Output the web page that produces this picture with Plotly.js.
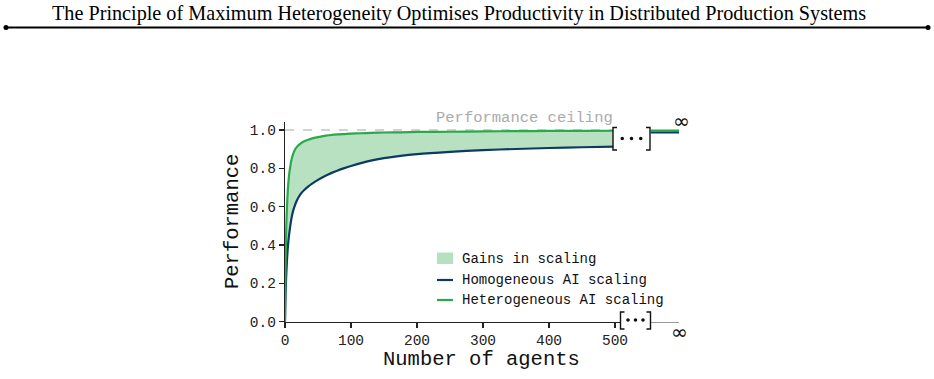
<!DOCTYPE html>
<html>
<head>
<meta charset="utf-8">
<script src="https://cdn.plot.ly/plotly-3.0.1.min.js"></script>
<style>
  html, body { margin: 0; padding: 0; background: #ffffff; }
  #chart { width: 934px; height: 379px; }
</style>
</head>
<body>
<div id="chart"></div>
<script>
// ---- data ----
const agents = [0, 0.5, 1, 1.5, 2, 3, 4, 5, 6, 8, 10, 12, 15, 18, 21, 25, 30, 35, 40, 50, 60, 70, 80, 90, 100, 115, 130, 150, 175, 200, 250, 300, 350, 400, 450, 500];
const homogeneous = [0, 0.09, 0.16, 0.21, 0.25, 0.32, 0.375, 0.415, 0.448, 0.50, 0.543, 0.574, 0.607, 0.632, 0.652, 0.672, 0.690, 0.705, 0.718, 0.740, 0.759, 0.775, 0.789, 0.801, 0.812, 0.827, 0.840, 0.853, 0.865, 0.874, 0.886, 0.895, 0.901, 0.906, 0.910, 0.913];
const heterogeneous = [0, 0.20, 0.34, 0.43, 0.50, 0.60, 0.67, 0.72, 0.76, 0.81, 0.847, 0.872, 0.897, 0.912, 0.922, 0.933, 0.942, 0.949, 0.955, 0.963, 0.969, 0.974, 0.977, 0.979, 0.981, 0.983, 0.985, 0.987, 0.988, 0.990, 0.991, 0.993, 0.994, 0.995, 0.995, 0.996];

// values at the limit (n -> infinity), shown past the axis break
const limitX = [0, 1];
const homogeneousLimit = [0.987, 0.988];
const heterogeneousLimit = [0.997, 0.997];

const ceiling = 1.0;
const ceilingX = [0, 500];
const xTicks = [0, 100, 200, 300, 400, 500];
const yTicks = [0, 0.2, 0.4, 0.6, 0.8, 1.0];

// ---- style ----
const GREEN = '#2ba84a';
const NAVY = '#0c3a63';
const FILL = 'rgba(43,168,74,0.34)';
const MONO = '"Liberation Mono", "DejaVu Sans Mono", monospace';
const SERIF = '"Liberation Serif", "DejaVu Serif", serif';
const W = 934, H = 379;
const px = v => v / W;          // pixel column -> paper fraction
const py = v => 1 - v / H;      // pixel row -> paper fraction

const curveLine = color => ({ color: color, width: 2.2, shape: 'spline', smoothing: 0.8 });

const traces = [
  { x: ceilingX, y: ceilingX.map(() => ceiling), xaxis: 'x', yaxis: 'y', mode: 'lines',
    line: { color: '#c4c4c4', width: 1.6, dash: 'dash' }, hoverinfo: 'skip', showlegend: false },
  { x: agents, y: homogeneous, xaxis: 'x', yaxis: 'y', mode: 'lines', name: 'Homogeneous AI scaling',
    line: curveLine(NAVY), showlegend: false },
  { x: agents, y: heterogeneous, xaxis: 'x', yaxis: 'y', mode: 'lines', name: 'Heterogeneous AI scaling',
    fill: 'tonexty', fillcolor: FILL, line: curveLine(GREEN), showlegend: false },
  { x: limitX, y: homogeneousLimit, xaxis: 'x2', yaxis: 'y', mode: 'lines',
    line: { color: NAVY, width: 2.2 }, showlegend: false, hoverinfo: 'skip' },
  { x: limitX, y: heterogeneousLimit, xaxis: 'x2', yaxis: 'y', mode: 'lines',
    fill: 'tonexty', fillcolor: FILL,
    line: { color: GREEN, width: 2.2 }, showlegend: false, hoverinfo: 'skip' }
];

const tickFont = { family: MONO, size: 14.5, color: '#222' };

// axis break marker: white box, two brackets and three dots
function breakMarker(x0, x1, y0, y1, dotY) {
  const out = [
    { type: 'rect', xref: 'paper', yref: 'paper', x0: px(x0), x1: px(x1), y0: py(y1), y1: py(y0),
      fillcolor: '#ffffff', line: { width: 0 }, layer: 'above' },
    { type: 'path', xref: 'paper', yref: 'paper', layer: 'above',
      path: `M${px(x0 + 4)},${py(y0)} L${px(x0)},${py(y0)} L${px(x0)},${py(y1)} L${px(x0 + 4)},${py(y1)}`,
      line: { color: '#111', width: 1.4 } },
    { type: 'path', xref: 'paper', yref: 'paper', layer: 'above',
      path: `M${px(x1 - 4)},${py(y0)} L${px(x1)},${py(y0)} L${px(x1)},${py(y1)} L${px(x1 - 4)},${py(y1)}`,
      line: { color: '#111', width: 1.4 } }
  ];
  const step = (x1 - x0) / 4;
  for (let i = 1; i <= 3; i++) {
    const cx = x0 + step * i;
    out.push({ type: 'circle', xref: 'paper', yref: 'paper', layer: 'above',
      x0: px(cx - 1.8), x1: px(cx + 1.8), y0: py(dotY + 1.8), y1: py(dotY - 1.8),
      fillcolor: '#111', line: { width: 0 } });
  }
  return out;
}

const shapes = [
  // header rule with end dots
  { type: 'line', xref: 'paper', yref: 'paper', x0: px(6), x1: px(928), y0: py(27.5), y1: py(27.5),
    line: { color: '#000', width: 2 } },
  { type: 'circle', xref: 'paper', yref: 'paper', x0: px(3.5), x1: px(8.5), y0: py(30), y1: py(25),
    fillcolor: '#000', line: { width: 0 } },
  { type: 'circle', xref: 'paper', yref: 'paper', x0: px(925.5), x1: px(930.5), y0: py(30), y1: py(25),
    fillcolor: '#000', line: { width: 0 } },
  ...breakMarker(613, 650, 127.5, 150, 138.5),
  ...breakMarker(620.5, 650.5, 312, 329, 320),
  // legend swatches
  { type: 'rect', xref: 'paper', yref: 'paper', x0: px(437), x1: px(453), y0: py(264), y1: py(252.5),
    fillcolor: 'rgb(181,225,192)', line: { width: 0 } },
  { type: 'line', xref: 'paper', yref: 'paper', x0: px(437), x1: px(453), y0: py(280), y1: py(280),
    line: { color: NAVY, width: 2.2 } },
  { type: 'line', xref: 'paper', yref: 'paper', x0: px(437), x1: px(453), y0: py(300), y1: py(300),
    line: { color: GREEN, width: 2.2 } }
];

const legendFont = { family: MONO, size: 14, color: '#111' };
const annotations = [
  { xref: 'paper', yref: 'paper', x: px(459), y: py(14), xanchor: 'center', yanchor: 'middle', showarrow: false,
    text: 'The Principle of Maximum Heterogeneity Optimises Productivity in Distributed Production Systems',
    font: { family: SERIF, size: 20.2, color: '#000' } },
  { xref: 'paper', yref: 'paper', x: px(615), y: py(118), xanchor: 'right', yanchor: 'middle', showarrow: false,
    text: 'Performance ceiling', font: { family: MONO, size: 15.5, color: '#ababab' } },
  { xref: 'paper', yref: 'paper', x: px(681.5), y: py(120.5), xanchor: 'center', yanchor: 'middle', showarrow: false,
    text: '∞', font: { family: '"DejaVu Sans", sans-serif', size: 20, color: '#111' } },
  { xref: 'paper', yref: 'paper', x: px(679), y: py(331.5), xanchor: 'center', yanchor: 'middle', showarrow: false,
    text: '∞', font: { family: '"DejaVu Sans", sans-serif', size: 20, color: '#111' } },
  { xref: 'paper', yref: 'paper', x: px(481), y: py(359), xanchor: 'center', yanchor: 'middle', showarrow: false,
    text: 'Number of agents', font: { family: MONO, size: 20.5, color: '#111' } },
  { xref: 'paper', yref: 'paper', x: px(232), y: py(222), xanchor: 'center', yanchor: 'middle', showarrow: false,
    textangle: -90, text: 'Performance', font: { family: MONO, size: 20.5, color: '#111' } },
  { xref: 'paper', yref: 'paper', x: px(460), y: py(258.5), xanchor: 'left', yanchor: 'middle', showarrow: false,
    text: 'Gains in scaling', font: legendFont },
  { xref: 'paper', yref: 'paper', x: px(460), y: py(279.5), xanchor: 'left', yanchor: 'middle', showarrow: false,
    text: 'Homogeneous AI scaling', font: legendFont },
  { xref: 'paper', yref: 'paper', x: px(460), y: py(300), xanchor: 'left', yanchor: 'middle', showarrow: false,
    text: 'Heterogeneous AI scaling', font: legendFont }
];

const layout = {
  width: W, height: H,
  margin: { l: 0, r: 0, t: 0, b: 0 },
  paper_bgcolor: '#ffffff', plot_bgcolor: 'rgba(0,0,0,0)',
  showlegend: false,
  xaxis: {
    domain: [px(285), px(620)], range: [0, 507.6], anchor: 'y',
    tickmode: 'array', tickvals: xTicks, ticktext: xTicks.map(String),
    ticks: 'outside', ticklen: 5, tickwidth: 1.1, tickcolor: '#222',
    showline: true, linecolor: '#222', linewidth: 1.2,
    showgrid: false, zeroline: false, tickfont: tickFont
  },
  xaxis2: {
    domain: [px(650.5), px(679)], range: [0, 1], anchor: 'y',
    showline: true, linecolor: '#9a9a9a', linewidth: 1,
    showticklabels: false, ticks: '', showgrid: false, zeroline: false
  },
  yaxis: {
    domain: [py(321.7), py(121.7)], range: [0, 1.0433], anchor: 'x',
    tickmode: 'array', tickvals: yTicks, ticktext: yTicks.map(v => v.toFixed(1)),
    ticks: 'outside', ticklen: 5, tickwidth: 1.1, tickcolor: '#222',
    showline: true, linecolor: '#222', linewidth: 1.2,
    showgrid: false, zeroline: false, tickfont: tickFont
  },
  shapes: shapes,
  annotations: annotations
};

Plotly.newPlot('chart', traces, layout, { displayModeBar: false, staticPlot: true });
</script>
</body>
</html>
